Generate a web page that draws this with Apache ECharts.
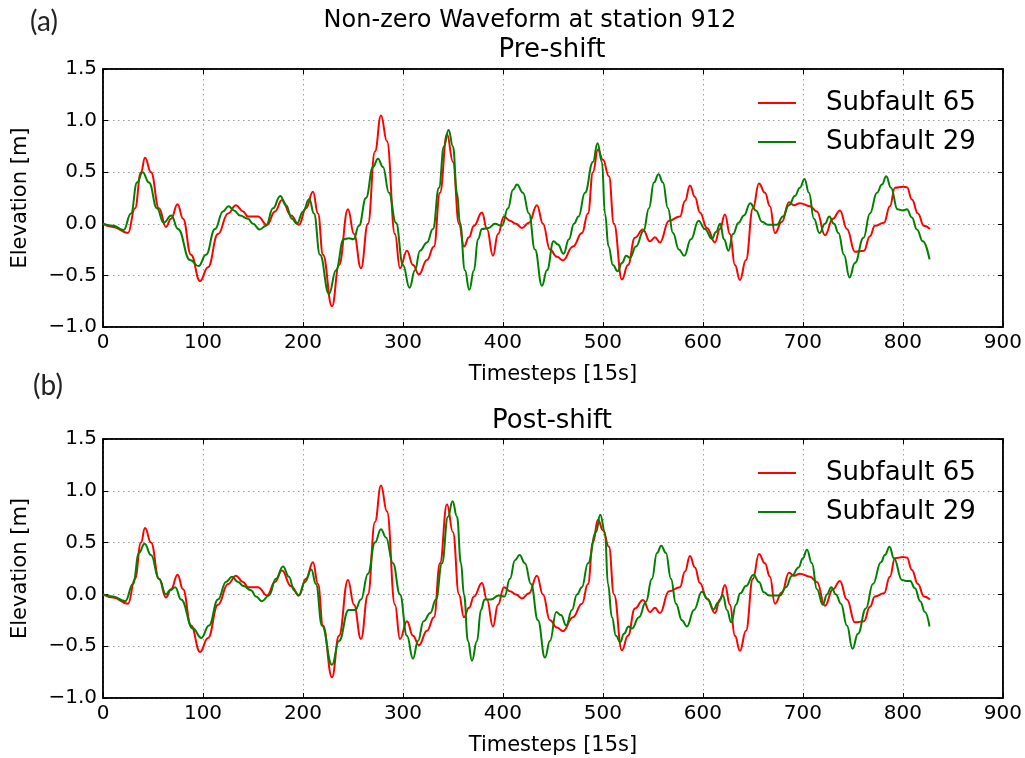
<!DOCTYPE html>
<html>
<head>
<meta charset="utf-8">
<script src="https://cdn.jsdelivr.net/npm/echarts@6/dist/echarts.min.js"></script>
<style>
html,body{margin:0;padding:0;background:#fff;}
#chart{width:1025px;height:758px;}
</style>
</head>
<body>
<div id="chart"></div>
<script>
// ---- data ----
var xTicks = [0, 100, 200, 300, 400, 500, 600, 700, 800, 900];
var yTicks = [-1.0, -0.5, 0.0, 0.5, 1.0, 1.5];
var seriesNames = ['Subfault 65', 'Subfault 29'];
var panelTitles = ['Pre-shift', 'Post-shift'];
var mainTitle = 'Non-zero Waveform at station 912';
var panelLetters = ['(a)', '(b)'];
var xAxisName = 'Timesteps [15s]';
var yAxisName = 'Elevation [m]';

// Subfault 65 (same in both panels)
var sub65 = [[0,0],[10,-0.03],[25,-0.09],[32,0.15],[38,0.5],[42,0.64],[48,0.5],[56,0.15],[63,-0.03],[68,0.05],[74.6,0.19],[80,0.05],[88,-0.3],[97,-0.555],[105,-0.42],[115,-0.1],[125,0.1],[133,0.18],[140,0.12],[145,0.07],[155,0.07],[164,-0.01],[172,0.12],[179,0.23],[188,0.08],[196,-0.01],[203,0.15],[210,0.31],[215,0.1],[220,-0.3],[229,-0.8],[236,-0.4],[245,0.14],[251,-0.1],[258,-0.43],[265,0.0],[272,0.7],[278,1.05],[284,0.8],[292,-0.1],[297,-0.43],[304,-0.26],[310,-0.4],[316,-0.49],[324,-0.35],[331,-0.22],[337,0.3],[344,0.87],[350,0.6],[356,0.0],[361,-0.22],[366,-0.13],[371,-0.02],[379,0.11],[384,-0.05],[390,-0.31],[395,-0.1],[401,0.07],[407,0.03],[413,0.0],[419,-0.04],[426,0.01],[434,0.18],[440,0.0],[447,-0.25],[454,-0.32],[460,-0.355],[470,-0.22],[479,-0.09],[485,0.1],[490,0.5],[495,0.72],[500,0.62],[506,0.46],[511,0.0],[519,-0.54],[525,-0.4],[532,-0.135],[540,-0.055],[547,-0.17],[552,-0.13],[557,-0.18],[566,0.03],[577,0.07],[582,0.22],[587,0.37],[592,0.26],[597,0.11],[604,-0.04],[612,-0.18],[617,-0.05],[622,0.09],[627,-0.1],[632,-0.4],[637,-0.545],[643,-0.35],[650,0.15],[656,0.39],[662,0.3],[667,0.17],[672,-0.09],[679,0.02],[686,0.21],[691,0.18],[697,0.2],[707,0.17],[714,0.12],[722,-0.11],[730,0.05],[737,0.13],[744,-0.05],[752,-0.27],[761,-0.26],[767,-0.12],[772,-0.02],[781,0.01],[787,0.17],[792,0.35],[800,0.36],[804,0.355],[809,0.235],[815,0.1],[821,-0.02],[827,-0.05]];

// Subfault 29, pre-shift
var sub29Pre = [[0,0],[10,-0.02],[20.6,-0.06],[28,0.1],[34,0.4],[39.6,0.5],[46,0.4],[54,0.15],[60.6,0.01],[68.3,0.08],[75,-0.05],[87,-0.35],[95.6,-0.41],[103,-0.3],[112,-0.05],[120,0.12],[125.6,0.17],[131,0.13],[137,0.08],[145,0.05],[150,0.0],[156.6,-0.055],[163,-0.02],[170,0.15],[177.3,0.27],[183,0.18],[189,0.05],[194,0.0],[200,0.12],[206.3,0.24],[211,0.1],[217,-0.3],[226,-0.68],[233,-0.45],[240.6,-0.15],[246,-0.14],[250.6,-0.15],[256,-0.02],[263,0.25],[270,0.55],[275,0.63],[280,0.55],[286,0.3],[293,0.01],[300,-0.4],[306.6,-0.62],[312,-0.45],[317,-0.26],[324,-0.18],[330,-0.05],[336,0.35],[341,0.75],[345.6,0.91],[350,0.75],[354,0.3],[357,0.01],[362,-0.45],[366.3,-0.64],[371,-0.45],[375,-0.15],[379,-0.05],[385.6,-0.04],[392,0.0],[399,-0.02],[405,0.15],[410,0.33],[414,0.38],[420,0.3],[426,0.1],[432,-0.25],[439,-0.6],[444,-0.45],[450.6,-0.17],[455,-0.2],[460.6,-0.29],[466,-0.15],[471,0.0],[475.6,0.07],[482,0.3],[490,0.6],[494.6,0.78],[499,0.6],[502,0.1],[505.6,-0.22],[510,-0.4],[514.6,-0.46],[519,-0.38],[523.3,-0.31],[527,-0.33],[533,-0.22],[540.6,-0.07],[546,0.15],[551,0.4],[555.6,0.48],[560,0.4],[565,0.15],[570,-0.09],[576,-0.25],[581.3,-0.31],[588,-0.15],[595.6,0.03],[602,-0.05],[609,-0.145],[613,-0.08],[617.3,0.0],[621,-0.15],[625.6,-0.26],[630,-0.1],[635.6,0.01],[641,0.08],[647.3,0.2],[653,0.13],[659,0.02],[665,-0.01],[674,-0.01],[680,0.07],[686,0.18],[692,0.27],[697,0.35],[701.6,0.435],[706,0.3],[711,0.05],[716.6,-0.09],[722,0.0],[726.3,0.07],[731,0.0],[735.6,-0.09],[741,-0.3],[746.6,-0.52],[752,-0.38],[760.6,-0.135],[767,0.1],[774,0.3],[779,0.38],[783.3,0.46],[788,0.35],[794.6,0.14],[800,0.13],[804,0.14],[809,0.06],[814,-0.055],[820,-0.17],[826.6,-0.345]];

// Subfault 29, post-shift
var sub29Post = [[0,0],[10,-0.02],[22.3,-0.065],[30,0.1],[36,0.4],[41.6,0.49],[48,0.38],[56,0.15],[63,0.0],[67,0.04],[72.3,0.07],[78,-0.05],[90,-0.33],[98.3,-0.42],[106,-0.3],[115,-0.05],[123,0.12],[129,0.17],[135,0.12],[140.6,0.08],[148,0.04],[153,-0.02],[159,-0.065],[166,-0.01],[173,0.15],[180,0.27],[186,0.17],[191,0.04],[195.6,-0.01],[202,0.12],[208.3,0.24],[213,0.1],[219,-0.3],[229,-0.68],[236,-0.45],[245.6,-0.15],[252.3,-0.15],[258,-0.05],[265,0.2],[272,0.5],[278,0.63],[283,0.55],[290,0.3],[297,0.0],[304,-0.4],[310,-0.62],[315,-0.45],[320.6,-0.26],[327.3,-0.18],[333,-0.05],[339,0.3],[345,0.75],[349.6,0.9],[354,0.75],[358,0.3],[361,0.0],[365,-0.45],[369,-0.64],[374,-0.45],[378,-0.15],[381.6,-0.05],[388,-0.05],[395.6,-0.01],[401.6,-0.02],[407,0.15],[412,0.33],[416.6,0.38],[422,0.3],[428,0.1],[435,-0.25],[442,-0.61],[447,-0.45],[453.3,-0.17],[458,-0.2],[463.3,-0.3],[469,-0.15],[474,0.0],[479,0.07],[485,0.3],[493,0.6],[497.3,0.77],[502,0.6],[505,0.1],[509,-0.22],[513,-0.4],[517.3,-0.46],[521,-0.38],[525.6,-0.31],[529,-0.33],[536,-0.22],[543,-0.07],[549,0.15],[554,0.4],[558.3,0.47],[563,0.4],[568,0.15],[573,-0.09],[579,-0.25],[584,-0.31],[591,-0.15],[599,0.025],[605,-0.05],[610.6,-0.145],[615,-0.08],[620,-0.01],[624,-0.15],[628.3,-0.27],[633,-0.1],[637.3,0.01],[643,0.08],[650.6,0.19],[656,0.12],[661,0.02],[666,-0.01],[677,-0.01],[683,0.07],[689,0.18],[695.6,0.26],[700,0.35],[704,0.43],[709,0.3],[714,0.05],[720,-0.1],[724,0.0],[728.3,0.07],[733,0.0],[738,-0.09],[744,-0.3],[749.6,-0.525],[755,-0.38],[763,-0.135],[770,0.1],[778,0.31],[782,0.38],[786.6,0.46],[791,0.35],[799,0.14],[803,0.13],[807.3,0.13],[812,0.06],[817.3,-0.065],[822,-0.17],[826.6,-0.31]];

// ---- chart ----
var FONT = 'DejaVu Sans';
var xMin = xTicks[0], xMax = xTicks[xTicks.length-1], xStep = xTicks[1]-xTicks[0];
var yMin = yTicks[0], yMax = yTicks[yTicks.length-1], yStep = yTicks[1]-yTicks[0];
function fmtY(v){ return (v < 0 ? '\u2212' : '') + Math.abs(v).toFixed(1); }

var grids = [
  {left:103, top:69, width:900, height:258},
  {left:103, top:439, width:900, height:259}
];
grids.forEach(function(g){ g.show = true; g.borderColor = '#000'; g.borderWidth = 1.5; g.backgroundColor = '#fff'; });

var xAxes = [], yAxes = [];
[0,1].forEach(function(gi){
  xAxes.push({
    type:'value', gridIndex:gi, min:xMin, max:xMax, interval:xStep, position:'bottom',
    name:xAxisName, nameLocation:'middle', nameGap:37,
    nameTextStyle:{fontFamily:FONT, fontSize:21, color:'#000'},
    axisLine:{show:true, onZero:false, lineStyle:{color:'#000', width:1.5}},
    axisTick:{show:true, inside:true, length:5, lineStyle:{color:'#000', width:1}},
    axisLabel:{fontFamily:FONT, fontSize:20, color:'#000', margin:6},
    splitLine:{show:true, lineStyle:{color:'#9a9a9a', width:1, type:[1.5,3.5]}}
  });
  xAxes.push({
    type:'value', gridIndex:gi, min:xMin, max:xMax, interval:xStep, position:'top',
    axisLine:{show:true, onZero:false, lineStyle:{color:'#000', width:1.5}},
    axisTick:{show:true, inside:true, length:5, lineStyle:{color:'#000', width:1}},
    axisLabel:{show:false}, splitLine:{show:false}
  });
  yAxes.push({
    type:'value', gridIndex:gi, min:yMin, max:yMax, interval:yStep, position:'left',
    name:yAxisName, nameLocation:'middle', nameGap:72, nameRotate:90,
    nameTextStyle:{fontFamily:FONT, fontSize:21, color:'#000'},
    axisLine:{show:true, onZero:false, lineStyle:{color:'#000', width:1.5}},
    axisTick:{show:true, inside:true, length:5, lineStyle:{color:'#000', width:1}},
    axisLabel:{fontFamily:FONT, fontSize:20, color:'#000', margin:6, formatter:fmtY},
    splitLine:{show:true, lineStyle:{color:'#9a9a9a', width:1, type:[1.5,3.5]}}
  });
  yAxes.push({
    type:'value', gridIndex:gi, min:yMin, max:yMax, interval:yStep, position:'right',
    axisLine:{show:true, onZero:false, lineStyle:{color:'#000', width:1.5}},
    axisTick:{show:true, inside:true, length:5, lineStyle:{color:'#000', width:1}},
    axisLabel:{show:false}, splitLine:{show:false}
  });
});

function lineSeries(name, data, color, gi){
  return {
    type:'line', name:name, data:data, xAxisIndex:gi*2, yAxisIndex:gi*2,
    symbol:'none', smooth:0.45, smoothMonotone:'x',
    lineStyle:{color:color, width:2}, itemStyle:{color:color},
    animation:false
  };
}
var RED = '#ff0000', GREEN = '#008000';
var series = [
  lineSeries(seriesNames[0], sub65, RED, 0),
  lineSeries(seriesNames[1], sub29Pre, GREEN, 0),
  lineSeries(seriesNames[0], sub65, RED, 1),
  lineSeries(seriesNames[1], sub29Post, GREEN, 1)
];

function legendAt(top){
  return {
    data:seriesNames, orient:'vertical', left:758, top:top, padding:0,
    icon:'rect', itemWidth:38, itemHeight:2, itemGap:13,
    textStyle:{fontFamily:FONT, fontSize:26, color:'#000', lineHeight:26, padding:[0,0,0,25]},
    selectedMode:false
  };
}

var option = {
  animation:false,
  backgroundColor:'#fff',
  grid:grids, xAxis:xAxes, yAxis:yAxes, series:series,
  legend:[legendAt(90), legendAt(460)],
  graphic:[
    {type:'text', x:530, y:21, style:{text:mainTitle, font:'24px "DejaVu Sans"', fill:'#000', textAlign:'center', textVerticalAlign:'middle'}},
    {type:'text', x:552, y:50, style:{text:panelTitles[0], font:'26px "DejaVu Sans"', fill:'#000', textAlign:'center', textVerticalAlign:'middle'}},
    {type:'text', x:552, y:421, style:{text:panelTitles[1], font:'26px "DejaVu Sans"', fill:'#000', textAlign:'center', textVerticalAlign:'middle'}},
    {type:'text', x:44, y:22, style:{text:panelLetters[0], font:'28px Lato', fill:'#222', textAlign:'center', textVerticalAlign:'middle'}},
    {type:'text', x:48, y:386, style:{text:panelLetters[1], font:'28px Lato', fill:'#222', textAlign:'center', textVerticalAlign:'middle'}}
  ]
};

var chart = echarts.init(document.getElementById('chart'), null, {renderer:'canvas'});
chart.setOption(option);
</script>
</body>
</html>
